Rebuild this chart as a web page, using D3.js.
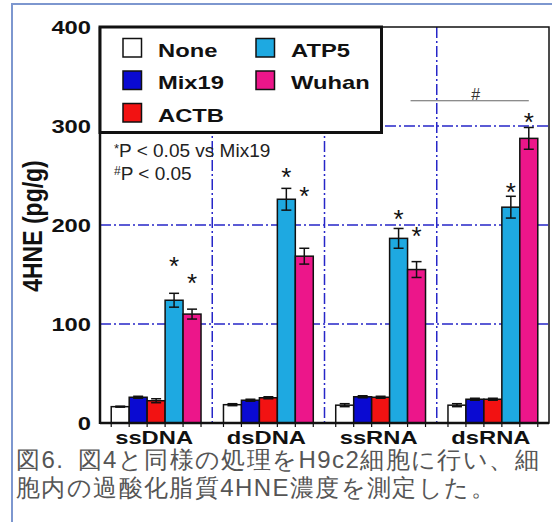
<!DOCTYPE html>
<html>
<head>
<meta charset="utf-8">
<script src="https://cdn.jsdelivr.net/npm/d3@7"></script>
<style>
  body { margin: 0; background: #fff; }
  text { font-family: "Liberation Sans", Arial, sans-serif; }
</style>
</head>
<body>
<div id="chart"></div>
<script>
var categories = ['ssDNA', 'dsDNA', 'ssRNA', 'dsRNA']
var series = ['None', 'Mix19', 'ACTB', 'ATP5', 'Wuhan']
var colors = ['#ffffff', '#0a0ad2', '#f21212', '#1ea9e1', '#ec168a']

var noneVals = [16.5, 18.5, 18, 18]
var mix19Vals = [26, 23, 26.5, 24]
var actbVals = [22.5, 25.5, 26, 24]
var atp5Vals = [124, 226, 186.5, 218]
var wuhanVals = [110, 168.5, 155, 287.5]

var noneErr = [0.5, 1, 1.5, 1.5]
var mix19Err = [1, 1, 1, 1]
var actbErr = [2, 1, 1, 1]
var atp5Err = [7, 11, 10, 11]
var wuhanErr = [5, 8, 8, 11]

// where the "*" marks sit (data units)
var starATP5 = [163, 253, 210, 237]
var starWuhan = [145.5, 233.5, 193, 308]

var yTicks = [0, 100, 200, 300, 400]
var gridY = [100, 200, 300]
var bracketY = 325.5

var noteLine1 = 'P < 0.05 vs Mix19'
var noteLine2 = 'P < 0.05'
var caption1 = '図6.\u2002図4と同様の処理をH9c2細胞に行い、細'
var caption2 = '胞内の過酸化脂質4HNE濃度を測定した。'

var allVals = [noneVals, mix19Vals, actbVals, atp5Vals, wuhanVals]
var allErr = [noneErr, mix19Err, actbErr, atp5Err, wuhanErr]

var svg_width = 552, svg_height = 522
var plot = { left: 100, right: 549, top: 27, bottom: 423 }
var boldStretch = 'scale(1.25,1)'

var svg = d3.select('#chart')
  .append('svg')
  .attr('width', svg_width)
  .attr('height', svg_height)

svg.append('rect')
  .attr('x', 12).attr('y', 4)
  .attr('width', 600).attr('height', 600)
  .attr('fill', '#fff')
  .attr('stroke', '#7d97cf')
  .attr('stroke-width', 2)

var xScale = d3.scaleBand()
  .domain(categories)
  .range([plot.left, plot.right])

var xSub = d3.scaleBand()
  .domain(series)
  .range([0, xScale.bandwidth()])
  .paddingOuter(0.625)

var yScale = d3.scaleLinear()
  .domain([0, 400])
  .range([plot.bottom, plot.top])

var rows = []
categories.forEach((c, i) => {
  series.forEach((s, j) => {
    rows.push({ cat: c, ser: s, idx: j, v: allVals[j][i], e: allErr[j][i] })
  })
})

// grid
var gridStyle = g => g.attr('stroke', '#2626c8').attr('stroke-width', 1.5)
  .attr('stroke-dasharray', '11,3,2,3').attr('fill', 'none')

svg.append('g').selectAll('line')
  .data(gridY)
  .enter().append('line')
  .attr('x1', plot.left).attr('x2', plot.right)
  .attr('y1', d => yScale(d)).attr('y2', d => yScale(d))
  .call(gridStyle)

svg.append('g').selectAll('line')
  .data(categories.slice(1))
  .enter().append('line')
  .attr('x1', d => xScale(d)).attr('x2', d => xScale(d))
  .attr('y1', plot.top).attr('y2', plot.bottom)
  .call(gridStyle)

// bars
svg.append('g').selectAll('rect')
  .data(rows)
  .enter().append('rect')
  .attr('x', d => xScale(d.cat) + xSub(d.ser))
  .attr('y', d => yScale(d.v))
  .attr('width', xSub.bandwidth())
  .attr('height', d => plot.bottom - yScale(d.v))
  .attr('fill', d => colors[d.idx])
  .attr('stroke', '#111')
  .attr('stroke-width', 1.5)

// error bars
var errG = svg.append('g').attr('stroke', '#111').attr('stroke-width', 1.5)
rows.forEach(d => {
  var cx = xScale(d.cat) + xSub(d.ser) + xSub.bandwidth() / 2
  var y1 = yScale(d.v + d.e), y2 = yScale(d.v - d.e)
  errG.append('line').attr('x1', cx).attr('x2', cx).attr('y1', y1).attr('y2', y2)
  errG.append('line').attr('x1', cx - 5).attr('x2', cx + 5).attr('y1', y1).attr('y2', y1)
  errG.append('line').attr('x1', cx - 5).attr('x2', cx + 5).attr('y1', y2).attr('y2', y2)
})

// small ticks under each bar edge
var edges = []
categories.forEach(c => series.forEach(s => {
  edges.push(xScale(c) + xSub(s))
}))
categories.forEach(c => edges.push(xScale(c) + xSub('Wuhan') + xSub.bandwidth()))
svg.append('g').selectAll('line')
  .data(edges)
  .enter().append('line')
  .attr('x1', d => d).attr('x2', d => d)
  .attr('y1', plot.bottom).attr('y2', plot.bottom + 4)
  .attr('stroke', '#111').attr('stroke-width', 1.2)

// frame
svg.append('rect')
  .attr('x', plot.left).attr('y', plot.top)
  .attr('width', plot.right - plot.left)
  .attr('height', plot.bottom - plot.top)
  .attr('fill', 'none').attr('stroke', '#111').attr('stroke-width', 1.5)
svg.append('line')
  .attr('x1', plot.left).attr('x2', plot.left)
  .attr('y1', plot.top).attr('y2', plot.bottom + 1)
  .attr('stroke', '#111').attr('stroke-width', 2.5)
svg.append('line')
  .attr('x1', plot.left).attr('x2', plot.right)
  .attr('y1', plot.bottom).attr('y2', plot.bottom)
  .attr('stroke', '#111').attr('stroke-width', 2.5)

// axes
var yAxis = svg.append('g')
  .attr('transform', `translate(${plot.left - 9}, 0)`)
  .call(d3.axisLeft(yScale).tickValues(yTicks).tickSize(0).tickPadding(0))
yAxis.select('.domain').remove()
yAxis.selectAll('text')
  .attr('transform', boldStretch)
  .attr('font-size', 19).attr('font-weight', 'bold').attr('fill', '#111')
  .attr('font-family', '"Liberation Sans", Arial, sans-serif')

var xAxis = svg.append('g')
  .attr('transform', `translate(0, ${plot.bottom})`)
  .call(d3.axisBottom(xScale).tickSize(0).tickPadding(8))
xAxis.select('.domain').remove()
xAxis.selectAll('text')
  .attr('transform', boldStretch)
  .attr('font-size', 19).attr('font-weight', 'bold').attr('fill', '#111')
  .attr('font-family', '"Liberation Sans", Arial, sans-serif')
xAxis.selectAll('.tick')
  .attr('transform', d => `translate(${xScale(d) + xScale.bandwidth() / 2 - 2}, 0)`)

svg.append('text')
  .attr('transform', `translate(42, 226) scale(1.2,1) rotate(-90)`)
  .attr('text-anchor', 'middle')
  .attr('font-size', 23).attr('font-weight', 'bold').attr('fill', '#111')
  .text('4HNE (pg/g)')

// stars
var starSize = 26
var stars = []
categories.forEach((c, i) => {
  stars.push({ cat: c, ser: 'ATP5', v: starATP5[i] })
  stars.push({ cat: c, ser: 'Wuhan', v: starWuhan[i] })
})
svg.append('g').selectAll('text')
  .data(stars)
  .enter().append('text')
  .attr('x', d => xScale(d.cat) + xSub(d.ser) + xSub.bandwidth() / 2)
  .attr('y', d => yScale(d.v) + starSize * 0.5)
  .attr('text-anchor', 'middle')
  .attr('font-size', starSize).attr('fill', '#111')
  .text('*')

// # bracket
var bx1 = xScale('ssRNA') + xSub('Wuhan') + 3
var bx2 = xScale('dsRNA') + xSub('Wuhan') + xSub.bandwidth() / 2
svg.append('line')
  .attr('x1', bx1).attr('x2', bx2)
  .attr('y1', yScale(bracketY)).attr('y2', yScale(bracketY))
  .attr('stroke', '#666').attr('stroke-width', 1.2)
svg.append('text')
  .attr('x', (bx1 + bx2) / 2 + 6)
  .attr('y', yScale(bracketY) - 1)
  .attr('text-anchor', 'middle')
  .attr('font-size', 16).attr('fill', '#333')
  .text('#')

// legend
var legend = svg.append('g')
legend.append('rect')
  .attr('x', plot.left).attr('y', plot.top)
  .attr('width', 281.5).attr('height', 105.5)
  .attr('fill', '#fff').attr('stroke', '#111').attr('stroke-width', 3)

var items = legend.selectAll('g.item')
  .data(series)
  .enter().append('g')
  .attr('transform', (d, i) => {
    var col = i < 3 ? 0 : 1
    var row = i < 3 ? i : i - 3
    return `translate(${123 + col * 133}, ${38.5 + row * 32.5})`
  })
items.append('rect')
  .attr('width', 18.5).attr('height', 18.5)
  .attr('fill', (d, i) => colors[i])
  .attr('stroke', '#111').attr('stroke-width', 1.5)
items.append('text')
  .attr('transform', 'translate(35, 18) ' + boldStretch)
  .attr('font-size', 19).attr('font-weight', 'bold').attr('fill', '#111')
  .text(d => d)

// notes
var n1 = svg.append('text').attr('x', 114).attr('y', 156.5)
  .attr('font-size', 19).attr('fill', '#222')
n1.append('tspan').attr('font-size', 13).attr('dy', -4).text('*')
n1.append('tspan').attr('dy', 4).text(noteLine1)
var n2 = svg.append('text').attr('x', 114).attr('y', 179.5)
  .attr('font-size', 19).attr('fill', '#222')
n2.append('tspan').attr('font-size', 12).attr('dy', -5).text('#')
n2.append('tspan').attr('dy', 5).text(noteLine2)

// caption
svg.append('text')
  .attr('x', 16).attr('y', 468)
  .attr('font-family', '"Noto Sans CJK JP", sans-serif')
  .attr('font-size', 24).attr('fill', '#555')
  .attr('letter-spacing', 1.4)
  .text(caption1)
svg.append('text')
  .attr('x', 16).attr('y', 496)
  .attr('font-family', '"Noto Sans CJK JP", sans-serif')
  .attr('font-size', 24).attr('fill', '#555')
  .attr('letter-spacing', 1.4)
  .text(caption2)
</script>
</body>
</html>
